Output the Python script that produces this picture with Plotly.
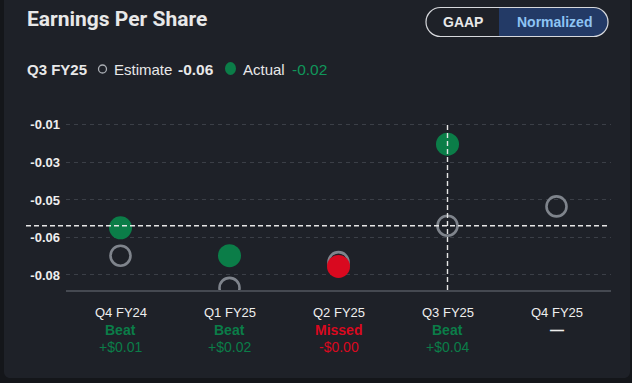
import plotly.graph_objects as go

# ---------------- data ----------------
categories = ["Q4 FY24", "Q1 FY25", "Q2 FY25", "Q3 FY25", "Q4 FY25"]
estimates = [-0.071, -0.086, -0.074, -0.057, -0.048]
actuals = [-0.058, -0.071, -0.076, -0.019, None]
results = ["Beat", "Beat", "Missed", "Beat", "—"]
surprises = ["+$0.01", "+$0.02", "-$0.00", "+$0.04", ""]
ytick_vals = [-0.01, -0.0275, -0.045, -0.0625, -0.08]
ytick_text = ["-0.01", "-0.03", "-0.05", "-0.06", "-0.08"]
focus_index = 3  # hovered quarter (Q3 FY25)

# ---------------- style ----------------
W, H = 632, 383
OUTER = "#14161a"
CARD = "#1e2128"
GREEN = "#0b7d48"
GREEN_TXT = "#10965a"
RED = "#d9091f"
EST = "#7f848c"
GRID = "#3b3f47"
WHITE = "#eeeeee"
FONT = "Liberation Sans"


def px(x):
    return x / W


def py(y):
    return 1 - y / H


def path_px(points):
    out = []
    for cmd, pts in points:
        if cmd == "Z":
            out.append("Z")
        else:
            out.append(cmd + " " + " ".join(f"{px(x):.5f},{py(y):.5f}" for x, y in pts))
    return " ".join(out)


def rounded_rect(x0, y0, x1, y1, r, left=True, right=True):
    k = 0.5523 * r
    cmds = []
    if left:
        cmds.append(("M", [(x0 + r, y0)]))
    else:
        cmds.append(("M", [(x0, y0)]))
    if right:
        cmds += [("L", [(x1 - r, y0)]),
                 ("C", [(x1 - r + k, y0), (x1, y0 + r - k), (x1, y0 + r)]),
                 ("L", [(x1, y1 - r)]),
                 ("C", [(x1, y1 - r + k), (x1 - r + k, y1), (x1 - r, y1)])]
    else:
        cmds += [("L", [(x1, y0)]), ("L", [(x1, y1)])]
    if left:
        cmds += [("L", [(x0 + r, y1)]),
                 ("C", [(x0 + r - k, y1), (x0, y1 - r + k), (x0, y1 - r)]),
                 ("L", [(x0, y0 + r)]),
                 ("C", [(x0, y0 + r - k), (x0 + r - k, y0), (x0 + r, y0)])]
    else:
        cmds += [("L", [(x0, y1)])]
    cmds.append(("Z", []))
    return path_px(cmds)


x_idx = list(range(len(categories)))

fig = go.Figure()
fig.add_trace(go.Scatter(
    x=x_idx, y=estimates, mode="markers",
    marker=dict(size=20, color="rgba(0,0,0,0)", line=dict(color=EST, width=2.6)),
    hoverinfo="skip", showlegend=False))
act_colors = [GREEN if r == "Beat" else RED for r in results]
fig.add_trace(go.Scatter(
    x=x_idx, y=actuals, mode="markers",
    marker=dict(size=23, color=act_colors, line=dict(width=0)),
    hoverinfo="skip", showlegend=False))

shapes = []
# card background
shapes.append(dict(type="path", xref="paper", yref="paper", layer="below",
                   path=rounded_rect(4, -20, 630, 378, 6),
                   fillcolor=CARD, line=dict(width=0)))
# toggle pill
shapes.append(dict(type="path", xref="paper", yref="paper", layer="above",
                   path=rounded_rect(499, 7.5, 608, 36.5, 14.5, left=False, right=True),
                   fillcolor="#233a66", line=dict(width=0)))
shapes.append(dict(type="path", xref="paper", yref="paper", layer="above",
                   path=rounded_rect(426, 7.5, 608, 36.5, 14.5),
                   fillcolor="rgba(0,0,0,0)", line=dict(color="#d6d8dc", width=1.2)))
# legend symbols
shapes.append(dict(type="circle", xref="paper", yref="paper", layer="above",
                   x0=px(98.5), x1=px(106.5), y0=py(73), y1=py(65),
                   fillcolor="rgba(0,0,0,0)", line=dict(color="#a9adb3", width=1.3)))
shapes.append(dict(type="circle", xref="paper", yref="paper", layer="above",
                   x0=px(225), x1=px(236), y0=py(75), y1=py(62),
                   fillcolor=GREEN, line=dict(width=0)))
# crosshair
shapes.append(dict(type="line", xref="paper", yref="y", layer="above",
                   x0=px(26), x1=px(610), y0=estimates[focus_index], y1=estimates[focus_index],
                   line=dict(color="#e6e6e6", width=1.4, dash="5px,3px")))
shapes.append(dict(type="line", xref="x", yref="y", layer="above",
                   x0=focus_index, x1=focus_index, y0=-0.087, y1=ytick_vals[0],
                   line=dict(color="#e6e6e6", width=1.4, dash="5px,3px")))

annotations = []


def label(x, y, text, size, color, anchor="left", family=FONT):
    annotations.append(dict(xref="paper", yref="paper", x=px(x), y=py(y), xanchor=anchor,
                            yanchor="middle", showarrow=False, text=text,
                            font=dict(family=family, size=size, color=color)))


label(25, 19, "<b>Earnings Per Share</b>", 21, "#e8e8e8", family="Roboto")
label(463, 22, "<b>GAAP</b>", 14, "#e8e8e8", anchor="center")
label(554, 22, "<b>Normalized</b>", 14, "#8ec4f4", anchor="center")

fi = focus_index
label(25, 69, f"<b>{categories[fi]}</b>", 15, "#e8e8e8")
label(112, 69, "Estimate", 15, "#e8e8e8")
label(176, 69, f"<b>{estimates[fi]:.2f}</b>", 15.5, "#e8e8e8")
label(241, 69, "Actual", 15, "#e8e8e8")
label(290, 69, f"{actuals[fi]:.2f}", 15.5, GREEN_TXT)

for i, cat in enumerate(categories):
    col = GREEN if results[i] == "Beat" else (RED if results[i] == "Missed" else WHITE)
    annotations.append(dict(xref="x", yref="paper", x=i, y=py(312), xanchor="center",
                            yanchor="middle", showarrow=False, text=cat,
                            font=dict(family=FONT, size=13, color=WHITE)))
    annotations.append(dict(xref="x", yref="paper", x=i, y=py(330), xanchor="center",
                            yanchor="middle", showarrow=False, text=f"<b>{results[i]}</b>",
                            font=dict(family=FONT, size=14, color=col)))
    if surprises[i]:
        annotations.append(dict(xref="x", yref="paper", x=i, y=py(347), xanchor="center",
                                yanchor="middle", showarrow=False, text=surprises[i],
                                font=dict(family=FONT, size=14, color=col)))

fig.update_layout(
    width=W, height=H,
    margin=dict(l=0, r=0, t=0, b=0),
    paper_bgcolor=OUTER, plot_bgcolor="rgba(0,0,0,0)",
    showlegend=False,
    shapes=shapes, annotations=annotations,
    xaxis=dict(domain=[px(66), px(611)], range=[-0.5, 4.5], showgrid=False, zeroline=False,
               showticklabels=False, showline=True, linecolor="#454951", linewidth=2,
               layer="below traces", fixedrange=True),
    yaxis=dict(domain=[py(290), py(111)], range=[-0.087, -0.0035], tickvals=ytick_vals,
               ticktext=ytick_text, showgrid=True, gridcolor=GRID, griddash="4px,4px",
               gridwidth=1, zeroline=False, showline=False, ticks="", ticklabelstandoff=5,
               tickfont=dict(family=FONT, size=13, color=WHITE, weight="bold"),
               layer="below traces", fixedrange=True),
)

fig.write_html("out.html", config={"displayModeBar": False},
               post_script="document.body.style.margin='0';document.body.style.overflow='hidden';")
